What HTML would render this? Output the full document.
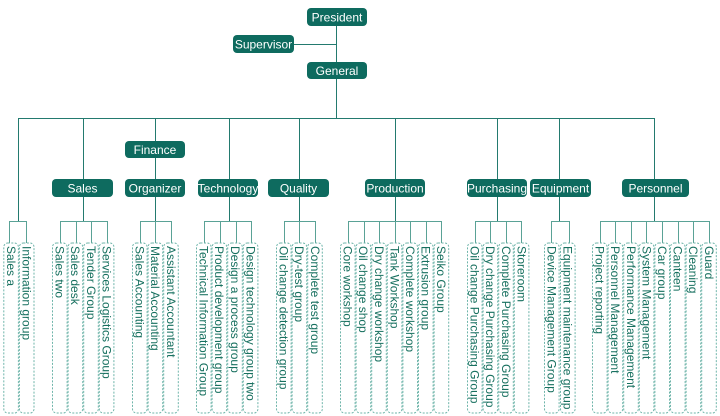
<!DOCTYPE html>
<html><head><meta charset="utf-8"><style>
html,body{margin:0;padding:0;background:#fff;}
svg{display:block;}
.h{fill:#0e6b5f;}
.ht{fill:#fff;font-family:"Liberation Sans",Arial,sans-serif;font-size:12px;text-anchor:middle;}
.l{stroke:#237a6f;stroke-width:1;fill:none;}
.c{stroke:#5aa296;stroke-width:1;fill:none;}
.b{fill:none;stroke:#6fb5aa;stroke-width:1;stroke-dasharray:2 1.5;}
.t{fill:#17705f;font-family:"Liberation Sans",Arial,sans-serif;font-size:12px;}
</style></head><body>
<svg width="720" height="416" viewBox="0 0 720 416" xmlns="http://www.w3.org/2000/svg">
<!-- top -->
<path class="l" d="M336.5 26V62 M336.5 79V118 M294 44.5H336.5 M18 118.5H655"/>
<rect class="h" x="307" y="8" width="60" height="18" rx="4"/>
<text class="ht" x="337" y="21.5">President</text>
<rect class="h" x="233" y="35" width="61" height="18" rx="4"/>
<text class="ht" x="263.5" y="48.5">Supervisor</text>
<rect class="h" x="307" y="62" width="60" height="17" rx="4"/>
<text class="ht" x="337" y="75">General</text>

<!-- mains -->
<path class="l" d="M18.5 118V221 M83.5 118V221 M155.5 118V221 M229.5 118V221 M299.5 118V221 M395.5 118V221 M497.5 118V221 M559.5 118V221 M654.5 118V221"/>

<rect class="h" x="125" y="141" width="60" height="17" rx="4"/>
<text class="ht" x="155" y="154">Finance</text>
<rect class="h" x="52" y="179" width="61" height="18" rx="4"/>
<text class="ht" x="82.5" y="192.5">Sales</text>
<rect class="h" x="125" y="179" width="60" height="18" rx="4"/>
<text class="ht" x="155" y="192.5">Organizer</text>
<rect class="h" x="198" y="179" width="60" height="18" rx="4"/>
<text class="ht" x="228" y="192.5">Technology</text>
<rect class="h" x="268" y="179" width="61" height="18" rx="4"/>
<text class="ht" x="298.5" y="192.5">Quality</text>
<rect class="h" x="365" y="179" width="60" height="18" rx="4"/>
<text class="ht" x="395" y="192.5">Production</text>
<rect class="h" x="467" y="179" width="60" height="18" rx="4"/>
<text class="ht" x="497" y="192.5">Purchasing</text>
<rect class="h" x="530" y="179" width="61" height="18" rx="4"/>
<text class="ht" x="560.5" y="192.5">Equipment</text>
<rect class="h" x="622" y="179" width="67" height="18" rx="4"/>
<text class="ht" x="655.5" y="192.5">Personnel</text>

<!-- sub-buses and connectors -->
<path class="c" d="
M9.5 221.5H26.5 M9.5 221V243 M26.5 221V243
M60.5 221.5H107.5 M60.5 221V243 M76.5 221V243 M91.5 221V243 M107.5 221V243
M140.5 221.5H171.5 M140.5 221V243 M155.5 221V243 M171.5 221V243
M204.5 221.5H251.5 M204.5 221V243 M220.5 221V243 M236.5 221V243 M251.5 221V243
M284.5 221.5H315.5 M284.5 221V243 M299.5 221V243 M315.5 221V243
M348.5 221.5H441.5 M348.5 221V243 M364.5 221V243 M379.5 221V243 M395.5 221V243 M410.5 221V243 M426.5 221V243 M441.5 221V243
M475.5 221.5H521.5 M475.5 221V243 M490.5 221V243 M506.5 221V243 M521.5 221V243
M551.5 221.5H569.5 M551.5 221V243 M569.5 221V243
M600.5 221.5H709.5 M600.5 221V243 M615.5 221V243 M631.5 221V243 M646.5 221V243 M662.5 221V243 M678.5 221V243 M693.5 221V243 M709.5 221V243
"/>

<!-- leaf boxes -->
<g>
<rect class="b" x="3.8" y="243" width="14.6" height="170" rx="4"/>
<rect class="b" x="19.4" y="243" width="14.6" height="170" rx="4"/>
<rect class="b" x="52.5" y="243" width="14.6" height="170" rx="4"/>
<rect class="b" x="68.1" y="243" width="14.6" height="170" rx="4"/>
<rect class="b" x="83.7" y="243" width="14.6" height="170" rx="4"/>
<rect class="b" x="99.3" y="243" width="14.6" height="170" rx="4"/>
<rect class="b" x="132.5" y="243" width="14.6" height="170" rx="4"/>
<rect class="b" x="148.1" y="243" width="14.6" height="170" rx="4"/>
<rect class="b" x="163.7" y="243" width="14.6" height="170" rx="4"/>
<rect class="b" x="196.5" y="243" width="14.6" height="170" rx="4"/>
<rect class="b" x="212.1" y="243" width="14.6" height="170" rx="4"/>
<rect class="b" x="227.7" y="243" width="14.6" height="170" rx="4"/>
<rect class="b" x="243.3" y="243" width="14.6" height="170" rx="4"/>
<rect class="b" x="276.5" y="243" width="14.6" height="170" rx="4"/>
<rect class="b" x="292.1" y="243" width="14.6" height="170" rx="4"/>
<rect class="b" x="307.7" y="243" width="14.6" height="170" rx="4"/>
<rect class="b" x="340.5" y="243" width="14.6" height="170" rx="4"/>
<rect class="b" x="356.1" y="243" width="14.6" height="170" rx="4"/>
<rect class="b" x="371.7" y="243" width="14.6" height="170" rx="4"/>
<rect class="b" x="387.3" y="243" width="14.6" height="170" rx="4"/>
<rect class="b" x="402.9" y="243" width="14.6" height="170" rx="4"/>
<rect class="b" x="418.5" y="243" width="14.6" height="170" rx="4"/>
<rect class="b" x="434.1" y="243" width="14.6" height="170" rx="4"/>
<rect class="b" x="467.5" y="243" width="14.6" height="170" rx="4"/>
<rect class="b" x="483.1" y="243" width="14.6" height="170" rx="4"/>
<rect class="b" x="498.7" y="243" width="14.6" height="170" rx="4"/>
<rect class="b" x="514.3" y="243" width="14.6" height="170" rx="4"/>
<rect class="b" x="544.5" y="243" width="14.6" height="170" rx="4"/>
<rect class="b" x="560.5" y="243" width="14.6" height="170" rx="4"/>
<rect class="b" x="592.5" y="243" width="14.6" height="170" rx="4"/>
<rect class="b" x="608.1" y="243" width="14.6" height="170" rx="4"/>
<rect class="b" x="623.7" y="243" width="14.6" height="170" rx="4"/>
<rect class="b" x="639.3" y="243" width="14.6" height="170" rx="4"/>
<rect class="b" x="654.9" y="243" width="14.6" height="170" rx="4"/>
<rect class="b" x="670.5" y="243" width="14.6" height="170" rx="4"/>
<rect class="b" x="686.1" y="243" width="14.6" height="170" rx="4"/>
<rect class="b" x="701.7" y="243" width="14.6" height="170" rx="4"/>
</g>

<!-- leaf text -->
<g class="t">
<text transform="translate(6.9,246) rotate(90)">Sales a</text>
<text transform="translate(22.5,246) rotate(90)">Information group</text>
<text transform="translate(55.6,246) rotate(90)">Sales two</text>
<text transform="translate(71.2,246) rotate(90)">Sales desk</text>
<text transform="translate(86.8,246) rotate(90)">Tender Group</text>
<text transform="translate(102.4,246) rotate(90)">Services Logistics Group</text>
<text transform="translate(135.6,246) rotate(90)">Sales Accounting</text>
<text transform="translate(151.2,246) rotate(90)">Material Accounting</text>
<text transform="translate(166.8,246) rotate(90)">Assistant Accountant</text>
<text transform="translate(199.6,246) rotate(90)">Technical Information Group</text>
<text transform="translate(215.2,246) rotate(90)">Product development group</text>
<text transform="translate(230.8,246) rotate(90)">Design a process group</text>
<text transform="translate(246.4,246) rotate(90)">Design technology group two</text>
<text transform="translate(279.6,246) rotate(90)">Oil change detection group</text>
<text transform="translate(295.2,246) rotate(90)">Dry-test group</text>
<text transform="translate(310.8,246) rotate(90)">Complete test group</text>
<text transform="translate(343.6,246) rotate(90)">Core workshop</text>
<text transform="translate(359.2,246) rotate(90)">Oil change shop</text>
<text transform="translate(374.8,246) rotate(90)">Dry change workshop</text>
<text transform="translate(390.4,246) rotate(90)">Tank Workshop</text>
<text transform="translate(406,246) rotate(90)">Complete workshop</text>
<text transform="translate(421.6,246) rotate(90)">Extrusion group</text>
<text transform="translate(437.2,246) rotate(90)">Seiko Group</text>
<text transform="translate(470.6,246) rotate(90)">Oil change Purchasing Group</text>
<text transform="translate(486.2,246) rotate(90)">Dry change Purchasing Group</text>
<text transform="translate(501.8,246) rotate(90)">Complete Purchasing Group</text>
<text transform="translate(517.4,246) rotate(90)">Storeroom</text>
<text transform="translate(547.6,246) rotate(90)">Device Management Group</text>
<text transform="translate(563.6,246) rotate(90)">Equipment maintenance group</text>
<text transform="translate(595.6,246) rotate(90)">Project reporting</text>
<text transform="translate(611.2,246) rotate(90)">Personnel Management</text>
<text transform="translate(626.8,246) rotate(90)">Performance Management</text>
<text transform="translate(642.4,246) rotate(90)">System Management</text>
<text transform="translate(658,246) rotate(90)">Car group</text>
<text transform="translate(673.6,246) rotate(90)">Canteen</text>
<text transform="translate(689.2,246) rotate(90)">Cleaning</text>
<text transform="translate(704.8,246) rotate(90)">Guard</text>
</g>
</svg>
</body></html>
